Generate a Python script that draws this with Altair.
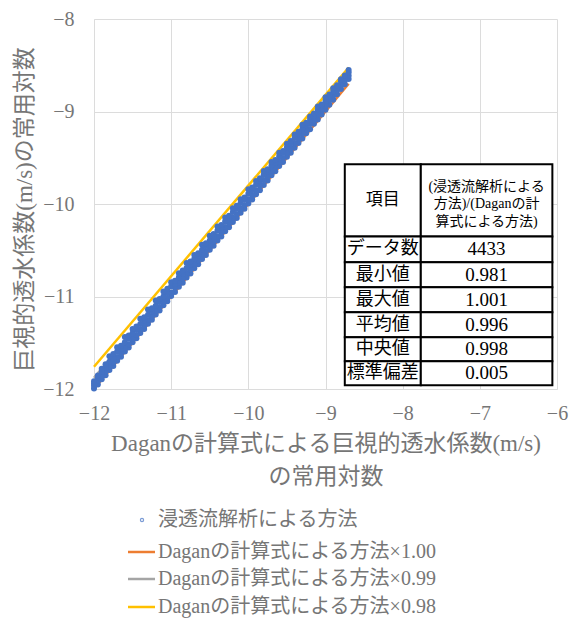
import altair as alt
import pandas as pd

FONT = "Liberation Serif, Noto Sans CJK JP"
TEXT_GRAY = "#767676"
GRID = "#dcdcdc"

# Dagan formula result (log10 of macroscopic hydraulic conductivity)
dagan_x = [-12.00, -11.95, -11.90, -11.85, -11.80, -11.75, -11.70, -11.65, -11.60, -11.55,
           -11.50, -11.45, -11.40, -11.35, -11.30, -11.25, -11.20, -11.15, -11.10, -11.05,
           -11.00, -10.95, -10.90, -10.85, -10.80, -10.75, -10.70, -10.65, -10.60, -10.55,
           -10.50, -10.45, -10.40, -10.35, -10.30, -10.25, -10.20, -10.15, -10.10, -10.05,
           -10.00, -9.95, -9.90, -9.85, -9.80, -9.75, -9.70, -9.65, -9.60, -9.55,
           -9.50, -9.45, -9.40, -9.35, -9.30, -9.25, -9.20, -9.15, -9.10, -9.05,
           -9.00, -8.95, -8.90, -8.85, -8.80, -8.75, -8.70]

# ratio (seepage analysis) / (Dagan formula) observed at each x, several per x
ratio_a = [0.9995, 1.000, 0.9995, 1.000, 0.9995, 1.000, 0.9995, 1.000, 0.9995, 1.000,
           0.9995, 1.000, 0.9995, 1.000, 0.9995, 1.000, 0.9995, 1.000, 0.9995, 1.000,
           0.9995, 1.000, 0.9995, 1.000, 0.9995, 1.000, 0.9995, 1.000, 0.9995, 1.000,
           0.9995, 1.000, 0.9995, 1.000, 0.9995, 1.000, 0.9995, 1.000, 0.9995, 1.000,
           0.9995, 1.000, 0.9995, 1.000, 0.9995, 0.9995, 0.999, 0.9995, 0.999, 0.9995,
           0.999, 0.9995, 0.999, 0.999, 0.999, 0.9985, 0.999, 0.998, 0.9985, 0.998,
           0.998, 0.9975, 0.997, 0.996, 0.995, 0.995, 0.994]
ratio_b = [0.997, 0.997, 0.996, 0.997, 0.996, 0.997, 0.996, 0.997, 0.996, 0.997,
           0.996, 0.997, 0.996, 0.997, 0.996, 0.997, 0.996, 0.997, 0.996, 0.997,
           0.996, 0.996, 0.995, 0.996, 0.995, 0.996, 0.995, 0.996, 0.995, 0.996,
           0.995, 0.996, 0.995, 0.996, 0.995, 0.996, 0.995, 0.996, 0.995, 0.996,
           0.995, 0.996, 0.995, 0.995, 0.994, 0.995, 0.994, 0.995, 0.994, 0.995,
           0.994, 0.995, 0.994, 0.994, 0.993, 0.994, 0.993, 0.994, 0.993, 0.993,
           0.993, 0.992, 0.992, 0.991, 0.991, 0.990, 0.990]
ratio_c = [0.995, 0.994, 0.993, 0.993, 0.992, 0.993, 0.991, 0.993, 0.991, 0.992,
           0.991, 0.992, 0.991, 0.992, 0.991, 0.992, 0.991, 0.992, 0.991, 0.992,
           0.990, 0.992, 0.990, 0.991, 0.990, 0.991, 0.990, 0.991, 0.990, 0.991,
           0.990, 0.991, 0.989, 0.991, 0.989, 0.991, 0.989, 0.990, 0.989, 0.990,
           0.989, 0.990, 0.989, 0.990, 0.988, 0.990, 0.988, 0.990, 0.988, 0.989,
           0.988, 0.989, 0.988, 0.989, 0.988, 0.989, 0.987, 0.989, 0.987, 0.988,
           0.987, 0.988, 0.987, 0.987, 0.986, 0.987, 0.986]
ratio_d = [0.993, 0.992, 0.990, 0.990, 0.987, 0.989, 0.987, 0.990, 0.986, 0.989,
           0.987, 0.989, 0.986, 0.989, 0.986, 0.989, 0.986, 0.989, 0.986, 0.988,
           0.986, 0.989, 0.986, 0.988, 0.985, 0.988, 0.986, 0.989, 0.985, 0.988,
           0.985, 0.988, 0.985, 0.988, 0.985, 0.988, 0.985, 0.987, 0.985, 0.988,
           0.984, 0.987, 0.985, 0.987, 0.984, 0.987, 0.984, 0.987, 0.984, 0.987,
           0.984, 0.986, 0.984, 0.986, 0.983, 0.986, 0.984, 0.986, 0.983, 0.986,
           0.983, 0.985, 0.983, 0.985, 0.983, 0.984, 0.983]

# reference lines: Dagan result multiplied by a factor
line_x = [-12.0, -8.7]
line_factors = [1.00, 0.99, 0.98]
line_names = ["Daganの計算式による方法×1.00",
              "Daganの計算式による方法×0.99",
              "Daganの計算式による方法×0.98"]
line_colors = ["#ED7D31", "#A5A5A5", "#FFC000"]
point_name = "浸透流解析による方法"
point_color = "#4472C4"

# summary table
header_left = "項目"
header_right = ["(浸透流解析による", "方法)/(Daganの計", "算式による方法)"]
stat_labels = ["データ数", "最小値", "最大値", "平均値", "中央値", "標準偏差"]
stat_values = ["4433", "0.981", "1.001", "0.996", "0.998", "0.005"]

# table grid placed in axis units
tbl_cols = [-8.75, -7.765, -6.06]
tbl_rows = [-9.57, -10.35, -10.63, -10.90, -11.17, -11.44, -11.70, -11.96]
header_line_y = [-9.82, -10.00, -10.19]

pts = pd.DataFrame(
    [{"x": x, "y": x * r}
     for ratios in (ratio_a, ratio_b, ratio_c, ratio_d)
     for x, r in zip(dagan_x, ratios)]
)
lines = pd.DataFrame(
    [{"x": x, "y": x * f, "s": n}
     for f, n in zip(line_factors, line_names) for x in line_x]
)

xs = alt.Scale(domain=[-12, -6], nice=False, zero=False)
ys = alt.Scale(domain=[-12, -8], nice=False, zero=False)

x_axis = alt.Axis(
    values=[-12, -11, -10, -9, -8, -7, -6], format="d", labelFlush=False,
    title=["Daganの計算式による巨視的透水係数(m/s)", "の常用対数"],
    titleFontSize=23, titleFont=FONT, titleColor=TEXT_GRAY, titleFontWeight="normal",
    titleLineHeight=33, titlePadding=9,
    labelFontSize=20, labelFont=FONT, labelColor=TEXT_GRAY, labelPadding=14,
    ticks=False, domainColor=GRID, gridColor=GRID,
)
y_axis = alt.Axis(
    values=[-12, -11, -10, -9, -8], format="d", labelFlush=False,
    title="巨視的透水係数(m/s)の常用対数",
    titleFontSize=23, titleFont=FONT, titleColor=TEXT_GRAY, titleFontWeight="normal",
    titlePadding=6, titleY=190,
    labelFontSize=20, labelFont=FONT, labelColor=TEXT_GRAY, labelPadding=20,
    ticks=False, domainColor=GRID, gridColor=GRID,
)

line_layer = alt.Chart(lines).mark_line(strokeWidth=2.5).encode(
    x=alt.X("x:Q", scale=xs, axis=x_axis),
    y=alt.Y("y:Q", scale=ys, axis=y_axis),
    color=alt.Color("s:N", scale=alt.Scale(domain=line_names, range=line_colors), legend=None),
    detail="s:N",
)

point_layer = alt.Chart(pts).mark_circle(size=36, opacity=1, color=point_color).encode(
    x=alt.X("x:Q", scale=xs), y=alt.Y("y:Q", scale=ys)
)

# table cells
cells = []
cells.append({"x1": tbl_cols[0], "x2": tbl_cols[1], "y1": tbl_rows[0], "y2": tbl_rows[1]})
cells.append({"x1": tbl_cols[1], "x2": tbl_cols[2], "y1": tbl_rows[0], "y2": tbl_rows[1]})
for i in range(len(stat_labels)):
    cells.append({"x1": tbl_cols[0], "x2": tbl_cols[1], "y1": tbl_rows[i + 1], "y2": tbl_rows[i + 2]})
    cells.append({"x1": tbl_cols[1], "x2": tbl_cols[2], "y1": tbl_rows[i + 1], "y2": tbl_rows[i + 2]})
cells = pd.DataFrame(cells)

cell_layer = alt.Chart(cells).mark_rect(fill="white", stroke="black", strokeWidth=2).encode(
    x=alt.X("x1:Q", scale=xs), x2="x2:Q", y=alt.Y("y1:Q", scale=ys), y2="y2:Q"
)

left_mid = (tbl_cols[0] + tbl_cols[1]) / 2
right_mid = (tbl_cols[1] + tbl_cols[2]) / 2
table_texts = [{"x": left_mid, "y": (tbl_rows[0] + tbl_rows[1]) / 2, "t": header_left, "sz": 17}]
for t, yv in zip(header_right, header_line_y):
    table_texts.append({"x": right_mid, "y": yv, "t": t, "sz": 14})
for i, (lab, val) in enumerate(zip(stat_labels, stat_values)):
    yc = (tbl_rows[i + 1] + tbl_rows[i + 2]) / 2
    table_texts.append({"x": left_mid, "y": yc, "t": lab, "sz": 18})
    table_texts.append({"x": right_mid, "y": yc, "t": val, "sz": 19})
table_texts = pd.DataFrame(table_texts)

text_layer = alt.Chart(table_texts).mark_text(font=FONT, color="black", baseline="middle").encode(
    x=alt.X("x:Q", scale=xs), y=alt.Y("y:Q", scale=ys), text="t:N",
    size=alt.Size("sz:Q", scale=None, legend=None),
)

# legend below the plot, pixel positions relative to the plot origin
legend_layers = []
legend_layers.append(
    alt.Chart(pd.DataFrame({"a": [0]})).mark_point(
        filled=False, size=10, strokeWidth=1.2, color=point_color
    ).encode(x=alt.value(48), y=alt.value(501))
)
legend_rows_y = [501, 533, 560, 588]
legend_labels = [point_name] + line_names
for i, c in enumerate(line_colors):
    legend_layers.append(
        alt.Chart(pd.DataFrame({"a": [0]})).mark_rule(color=c, strokeWidth=2.5).encode(
            x=alt.value(34), x2=alt.value(61), y=alt.value(legend_rows_y[i + 1])
        )
    )
for lab, yv in zip(legend_labels, legend_rows_y):
    legend_layers.append(
        alt.Chart(pd.DataFrame({"t": [lab]})).mark_text(
            font=FONT, fontSize=20, color=TEXT_GRAY, align="left", baseline="middle"
        ).encode(x=alt.value(64), y=alt.value(yv), text="t:N")
    )

chart = alt.layer(
    line_layer, point_layer, cell_layer, text_layer, *legend_layers
).properties(
    width=463, height=370,
    padding={"left": 94, "top": 19, "right": 14, "bottom": 232},
    autosize=alt.AutoSizeParams(type="none"),
).configure_view(stroke=None)

chart.save("out.html", embed_options={"renderer": "svg", "actions": False})
